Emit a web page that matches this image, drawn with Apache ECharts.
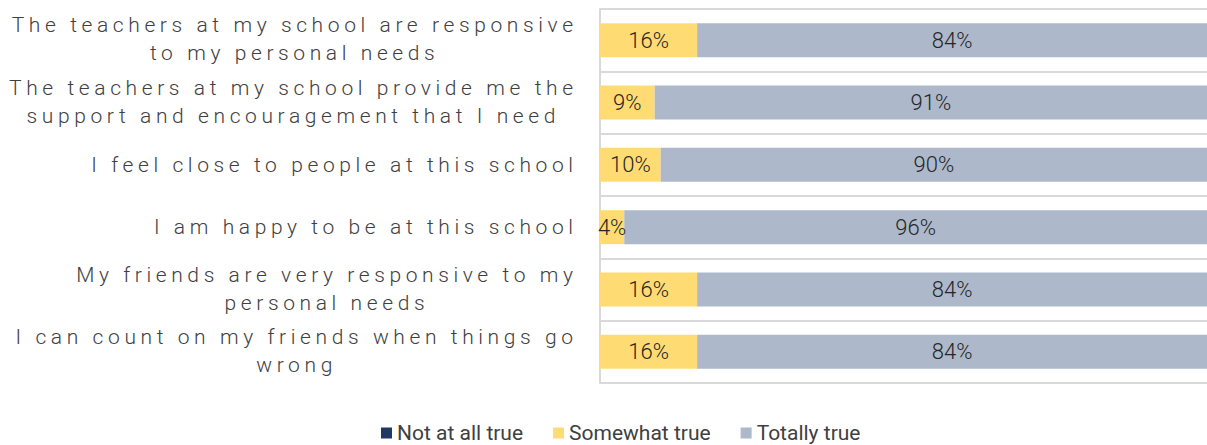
<!DOCTYPE html>
<html>
<head>
<meta charset="utf-8">
<script src="https://cdn.jsdelivr.net/npm/echarts@6/dist/echarts.min.js"></script>
<style>
  html, body { margin: 0; padding: 0; background: #fff; }
  #chart { width: 1207px; height: 445px; }
  /* category labels are the only right-anchored texts; give them tracking */
  #chart text[text-anchor="end"] { letter-spacing: 4.6px; }
</style>
</head>
<body>
<div id="chart"></div>
<script>
// Statements (each line of a statement separated by \n)
const categories = [
  'The teachers at my school are responsive\nto my personal needs',
  'The teachers at my school provide me the\nsupport and encouragement that I need',
  'I feel close to people at this school',
  'I am happy to be at this school',
  'My friends are very responsive to my\npersonal needs',
  'I can count on my friends when things go\nwrong'
];
const seriesNames = ['Not at all true', 'Somewhat true', 'Totally true'];
const notAtAllTrue = [0, 0, 0, 0, 0, 0];
const somewhatTrue = [16, 9, 10, 4, 16, 16];
const totallyTrue = [84, 91, 90, 96, 84, 84];

const COLORS = ['#203864', '#FFDC73', '#ADB9CA'];
const LABEL_FONT_SIZE = 21;
const LABEL_FONT = '300 ' + LABEL_FONT_SIZE + 'px Roboto';
const TRACKING = 4.6;      // must equal the CSS letter-spacing above
const LABEL_RIGHT = 575;   // right edge of the category label block
const LINE_HEIGHT = 28;

const chart = echarts.init(document.getElementById('chart'), null, { renderer: 'svg' });

function pctLabel(show) {
  return {
    show: show,
    position: 'inside',
    formatter: p => p.value + '%',
    fontFamily: 'Roboto',
    fontWeight: 300,
    fontSize: 22,
    color: '#262626'
  };
}

const seriesData = [notAtAllTrue, somewhatTrue, totallyTrue];

chart.setOption({
  animation: false,
  color: COLORS,
  grid: { left: 600, right: -3, top: 9, bottom: 62, containLabel: false },
  xAxis: {
    type: 'value',
    min: 0,
    max: 100,
    show: false
  },
  yAxis: {
    type: 'category',
    data: categories,
    inverse: true,
    axisLine: { show: true, lineStyle: { color: '#D9D9D9', width: 2 } },
    axisTick: { show: false },
    axisLabel: { show: false },
    splitLine: { show: true, lineStyle: { color: '#D9D9D9', width: 2 } }
  },
  legend: {
    left: 381,
    top: 420,
    padding: 0,
    itemWidth: 11,
    itemHeight: 11,
    itemGap: 30,
    icon: 'rect',
    textStyle: { fontFamily: 'Roboto', fontSize: 21, color: '#404040', lineHeight: 26 },
    data: seriesNames
  },
  series: seriesNames.map((name, i) => ({
    name: name,
    type: 'bar',
    stack: 'total',
    barWidth: 34,
    data: seriesData[i],
    label: pctLabel(i > 0)
  }))
});

// Category labels: block right-aligned at LABEL_RIGHT, lines centred within the block
const measureCtx = document.createElement('canvas').getContext('2d');
measureCtx.font = LABEL_FONT;
function lineWidth(s) {
  return measureCtx.measureText(s).width + TRACKING * (s.length - 1);
}

const labelGraphics = [];
categories.forEach((cat, idx) => {
  const lines = cat.split('\n');
  const widths = lines.map(lineWidth);
  const blockW = Math.max.apply(null, widths);
  const cy = chart.convertToPixel({ yAxisIndex: 0 }, idx);
  const firstY = cy - (lines.length - 1) * LINE_HEIGHT / 2 - (lines.length > 1 ? 1 : 0);
  lines.forEach((line, j) => {
    const right = LABEL_RIGHT - (blockW - widths[j]) / 2 + TRACKING - 2;
    labelGraphics.push({
      type: 'text',
      x: right,
      y: firstY + j * LINE_HEIGHT,
      style: {
        text: line,
        font: LABEL_FONT,
        fill: '#404040',
        align: 'right',
        textAlign: 'right',
        verticalAlign: 'middle',
        textVerticalAlign: 'middle'
      }
    });
  });
});
chart.setOption({ graphic: labelGraphics });
</script>
</body>
</html>
